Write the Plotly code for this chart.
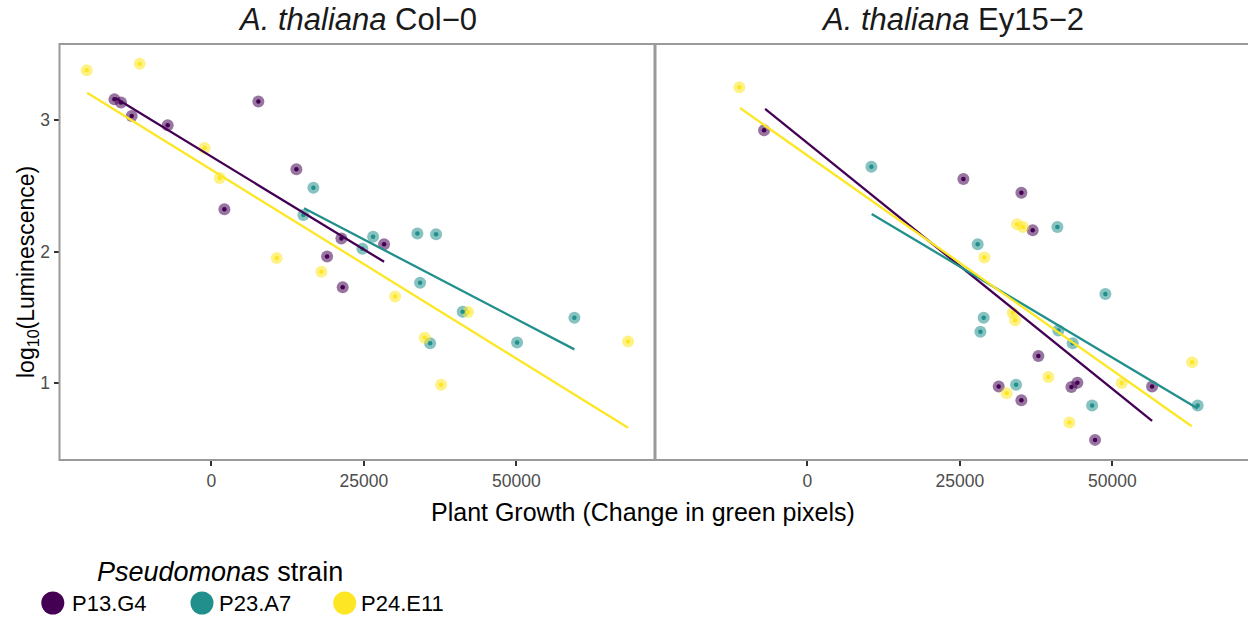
import plotly.graph_objects as go

# ---------------- data ----------------
strains = ["P13.G4", "P23.A7", "P24.E11"]
colors = ["#440154", "#21908C", "#FDE725"]
panels = ["Col\u22120", "Ey15\u22122"]

# A. thaliana Col-0
col0_p13_x = [-15900, -14810, -13065, -7164, 2131, 7704, 13934, 18966, 21311, 21524, 28310]
col0_p13_y = [3.159, 3.136, 3.033, 2.962, 2.323, 3.142, 2.627, 1.964, 2.101, 1.730, 2.058]
col0_p23_x = [15082, 16721, 24754, 26508, 33770, 34212, 35852, 36835, 41195, 50113, 59507]
col0_p23_y = [2.280, 2.487, 2.023, 2.114, 2.139, 1.765, 1.305, 2.134, 1.545, 1.311, 1.498]
col0_p24_x = [-20442, -11754, -1098, 1361, 10705, 18033, 30114, 34966, 37655, 42081, 68311]
col0_p24_y = [3.381, 3.430, 2.790, 2.561, 1.952, 1.848, 1.661, 1.346, 0.990, 1.543, 1.318]

# A. thaliana Ey15-2
ey_p13_x = [-7098, 25573, 31360, 35081, 35081, 36934, 37868, 43277, 44261, 47163, 56506]
ey_p13_y = [2.924, 2.553, 0.975, 2.449, 0.871, 2.164, 1.207, 0.972, 1.005, 0.570, 0.975]
ey_p23_x = [10492, 27917, 28360, 28901, 34212, 40983, 41147, 43491, 46671, 48851, 63982]
ey_p23_y = [2.646, 2.058, 1.392, 1.498, 0.990, 2.189, 1.402, 1.305, 0.831, 1.680, 0.831]
ey_p24_x = [-11147, 29016, 32671, 33655, 34048, 34376, 35360, 39507, 42950, 51523, 63064]
ey_p24_y = [3.252, 1.957, 0.924, 1.536, 1.480, 2.210, 2.189, 1.048, 0.702, 1.002, 1.161]

# linear fit lines (endpoints)
col0_fit_x = [[-15738, 28310], [15197, 59507], [-20377, 68311]]
col0_fit_y = [[3.169, 1.924], [2.331, 1.258], [3.210, 0.662]]
ey_fit_x = [[-6934, 56506], [10541, 63982], [-11032, 62999]]
ey_fit_y = [[3.086, 0.714], [2.288, 0.808], [3.093, 0.674]]

x_ticks = [0, 25000, 50000]
y_ticks = [1, 2, 3]

# ---------------- figure ----------------
W, H = 1248, 619
FONT = "Liberation Sans, Arial, Helvetica, sans-serif"

panel_points = [
    [(col0_p13_x, col0_p13_y), (col0_p23_x, col0_p23_y), (col0_p24_x, col0_p24_y)],
    [(ey_p13_x, ey_p13_y), (ey_p23_x, ey_p23_y), (ey_p24_x, ey_p24_y)],
]
panel_fits = [(col0_fit_x, col0_fit_y), (ey_fit_x, ey_fit_y)]

fig = go.Figure()
for p in range(2):
    xa = "x" if p == 0 else "x2"
    ya = "y" if p == 0 else "y2"
    # translucent large points
    for i in range(3):
        xs, ys = panel_points[p][i]
        fig.add_trace(go.Scatter(x=xs, y=ys, mode="markers", xaxis=xa, yaxis=ya,
                                 marker=dict(size=12, color=colors[i], opacity=0.55, line=dict(width=0)),
                                 showlegend=False, hoverinfo="skip"))
    # small solid points
    for i in range(3):
        xs, ys = panel_points[p][i]
        fig.add_trace(go.Scatter(x=xs, y=ys, mode="markers", xaxis=xa, yaxis=ya,
                                 marker=dict(size=4.5, color=colors[i], line=dict(width=0)),
                                 showlegend=False, name=strains[i]))
    # fit lines
    fx, fy = panel_fits[p]
    for i in range(3):
        fig.add_trace(go.Scatter(x=fx[i], y=fy[i], mode="lines", xaxis=xa, yaxis=ya,
                                 line=dict(color=colors[i], width=2.3),
                                 showlegend=False, hoverinfo="skip"))

def px_x(v):
    return v / W

def px_y(v):
    return 1 - v / H

left0, left1 = 59.5, 654.5
right0 = 655.5
top, bottom = 44, 460
xmin = -24900
scale = 152.5 / 25000.0  # px per unit
xmax_left = xmin + (left1 - left0) / scale
xmax_right = xmin + (W - right0) / scale
ydom = [px_y(bottom), px_y(top)]
yr = [0.417, 3.580]

axis_common = dict(showgrid=False, zeroline=False, showline=False, ticks="outside",
                   ticklen=5, tickwidth=2, tickcolor="#333333",
                   tickfont=dict(family=FONT, size=17.5, color="#4d4d4d"))

fig.update_layout(
    width=W, height=H,
    margin=dict(l=0, r=0, t=0, b=0),
    paper_bgcolor="white", plot_bgcolor="white",
    font=dict(family=FONT),
    showlegend=False,
    xaxis=dict(domain=[px_x(left0), px_x(left1)], range=[xmin, xmax_left],
               tickvals=x_ticks, ticktext=[str(t) for t in x_ticks], anchor="y", **axis_common),
    yaxis=dict(domain=ydom, range=yr, tickvals=y_ticks, anchor="x", **axis_common),
    xaxis2=dict(domain=[px_x(right0), 1], range=[xmin, xmax_right],
                tickvals=x_ticks, ticktext=[str(t) for t in x_ticks], anchor="y2", **axis_common),
    yaxis2=dict(domain=ydom, range=yr, anchor="x2", showticklabels=False, showgrid=False,
                zeroline=False, showline=False, ticks=""),
)

border = dict(color="#9a9a9a", width=2)
fig.add_shape(type="rect", xref="x domain", yref="y domain", x0=0, x1=1, y0=0, y1=1,
              line=border, fillcolor="rgba(0,0,0,0)", layer="above")
fig.add_shape(type="rect", xref="x2 domain", yref="y2 domain", x0=0, x1=1.02, y0=0, y1=1,
              line=border, fillcolor="rgba(0,0,0,0)", layer="above")

# panel (strip) titles
for p, cx in enumerate([(left0 + left1) / 2, (right0 + 1250.5) / 2]):
    fig.add_annotation(x=px_x(cx), y=px_y(20), xref="paper", yref="paper",
                       text="<i>A. thaliana</i> " + panels[p], showarrow=False,
                       font=dict(family=FONT, size=31, color="#1a1a1a"),
                       xanchor="center", yanchor="middle")

# axis titles
fig.add_annotation(x=px_x(643), y=px_y(512), xref="paper", yref="paper",
                   text="Plant Growth (Change in green pixels)", showarrow=False,
                   font=dict(family=FONT, size=25, color="black"),
                   xanchor="center", yanchor="middle")
fig.add_annotation(x=px_x(27), y=px_y(272), xref="paper", yref="paper",
                   text="log<sub>10</sub>(Luminescence)", showarrow=False, textangle=-90,
                   font=dict(family=FONT, size=23, color="black"),
                   xanchor="center", yanchor="middle")

# legend (manual)
fig.add_annotation(x=px_x(95), y=px_y(572), xref="paper", yref="paper",
                   text="<i>Pseudomonas</i> strain", showarrow=False,
                   font=dict(family=FONT, size=27, color="black"),
                   xanchor="left", yanchor="middle")
key_cx = [52.8, 202.0, 344.7]
lab_x = [69.5, 216.5, 358.5]
r = 11.5
cy = 603
for i in range(3):
    fig.add_shape(type="circle", xref="paper", yref="paper",
                  x0=px_x(key_cx[i] - r), x1=px_x(key_cx[i] + r),
                  y0=px_y(cy + r), y1=px_y(cy - r),
                  fillcolor=colors[i], line=dict(width=0))
    fig.add_annotation(x=px_x(lab_x[i]), y=px_y(cy), xref="paper", yref="paper",
                       text=strains[i], showarrow=False,
                       font=dict(family=FONT, size=22, color="black"),
                       xanchor="left", yanchor="middle")

fig.write_html("out.html")
